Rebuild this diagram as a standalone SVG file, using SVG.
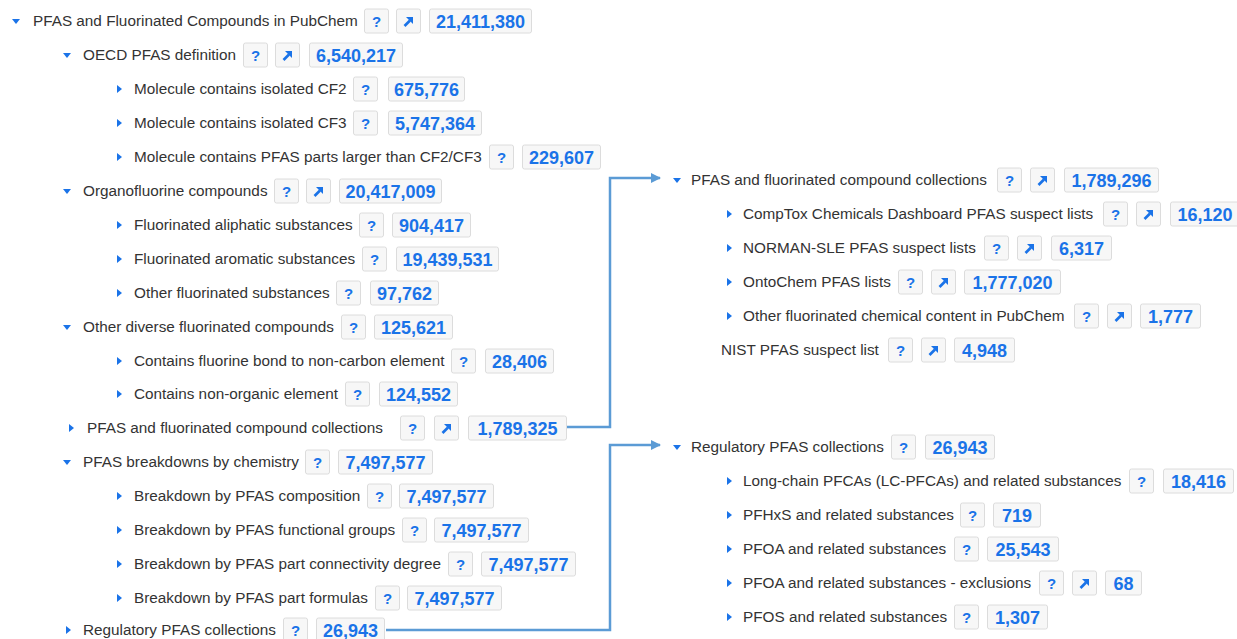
<svg xmlns="http://www.w3.org/2000/svg" xmlns:xlink="http://www.w3.org/1999/xlink" width="1237" height="639" viewBox="0 0 1237 639">
<style>
.lbl{font-family:"Liberation Sans",Arial,sans-serif;font-size:15.3px;fill:#333}
.cnt{font-family:"Liberation Sans",Arial,sans-serif;font-size:18px;font-weight:bold;fill:#1a73e8;text-anchor:middle}
.qt{font-family:"Liberation Sans",Arial,sans-serif;font-size:15px;font-weight:bold;fill:#1a73e8;text-anchor:middle}
.btn{fill:#f7f7f7;stroke:#dcdcdc;stroke-width:1}
.tri{fill:#1a73e8}
.con{fill:none;stroke:#5b9bd5;stroke-width:2.5}
</style>
<defs>
<g id="q"><rect class="btn" x="0.5" y="-12" width="24" height="24" rx="2"/><text class="qt" x="12.5" y="6">?</text></g>
<g id="ar"><rect class="btn" x="0.5" y="-12" width="24" height="24" rx="2"/><path d="M8.5,5 L14,-0.5" stroke="#1a73e8" stroke-width="2.6" fill="none"/><polygon points="17,-4 17,3 10,-4" fill="#1a73e8"/></g>
<path id="td" d="M-4,-2 L4,-2 L0,3 Z"/>
<path id="tr" d="M-2,-4 L3,0 L-2,4 Z"/>
<marker id="ah" viewBox="0 0 10 10" refX="9" refY="5" markerWidth="4" markerHeight="4" orient="auto" markerUnits="strokeWidth"><path d="M0,0 L10,5 L0,10 Z" fill="#5b9bd5"/></marker>
</defs>

<g id="connectors">
<path class="con" d="M566,427 H610 V178 H660" marker-end="url(#ah)"/>
<path class="con" d="M386,630 H610 V445 H660" marker-end="url(#ah)"/>
</g>

<g id="n1"><use href="#td" class="tri" x="16" y="21"/><text class="lbl" x="33" y="26">PFAS and Fluorinated Compounds in PubChem</text><use href="#q" x="364" y="21"/><use href="#ar" x="396" y="21"/><rect class="btn" x="429.5" y="9" width="102" height="24" rx="2"/><text class="cnt" x="480.5" y="28">21,411,380</text></g>
<g id="n2"><use href="#td" class="tri" x="67" y="55"/><text class="lbl" x="83" y="60">OECD PFAS definition</text><use href="#q" x="243" y="55"/><use href="#ar" x="275" y="55"/><rect class="btn" x="309.5" y="43" width="93" height="24" rx="2"/><text class="cnt" x="356" y="62">6,540,217</text></g>
<g id="n3"><use href="#tr" class="tri" x="119" y="89"/><text class="lbl" x="134" y="94">Molecule contains isolated CF2</text><use href="#q" x="353" y="89"/><rect class="btn" x="388.5" y="77" width="76" height="24" rx="2"/><text class="cnt" x="426.5" y="96">675,776</text></g>
<g id="n4"><use href="#tr" class="tri" x="119" y="123"/><text class="lbl" x="134" y="128">Molecule contains isolated CF3</text><use href="#q" x="353" y="123"/><rect class="btn" x="388.5" y="111" width="93" height="24" rx="2"/><text class="cnt" x="435" y="130">5,747,364</text></g>
<g id="n5"><use href="#tr" class="tri" x="119" y="157"/><text class="lbl" x="134" y="162">Molecule contains PFAS parts larger than CF2/CF3</text><use href="#q" x="489" y="157"/><rect class="btn" x="522.5" y="145" width="78" height="24" rx="2"/><text class="cnt" x="561.5" y="164">229,607</text></g>
<g id="n6"><use href="#td" class="tri" x="67" y="191"/><text class="lbl" x="83" y="196">Organofluorine compounds</text><use href="#q" x="274" y="191"/><use href="#ar" x="306" y="191"/><rect class="btn" x="339.5" y="179" width="102" height="24" rx="2"/><text class="cnt" x="390.5" y="198">20,417,009</text></g>
<g id="n7"><use href="#tr" class="tri" x="119" y="225"/><text class="lbl" x="134" y="230">Fluorinated aliphatic substances</text><use href="#q" x="359" y="225"/><rect class="btn" x="392.5" y="213" width="78" height="24" rx="2"/><text class="cnt" x="431.5" y="232">904,417</text></g>
<g id="n8"><use href="#tr" class="tri" x="119" y="259"/><text class="lbl" x="134" y="264">Fluorinated aromatic substances</text><use href="#q" x="362" y="259"/><rect class="btn" x="396.5" y="247" width="102" height="24" rx="2"/><text class="cnt" x="447.5" y="266">19,439,531</text></g>
<g id="n9"><use href="#tr" class="tri" x="119" y="293"/><text class="lbl" x="134" y="298">Other fluorinated substances</text><use href="#q" x="336" y="293"/><rect class="btn" x="370.5" y="281" width="68" height="24" rx="2"/><text class="cnt" x="404.5" y="300">97,762</text></g>
<g id="n10"><use href="#td" class="tri" x="67" y="327"/><text class="lbl" x="83" y="332">Other diverse fluorinated compounds</text><use href="#q" x="341" y="327"/><rect class="btn" x="374.5" y="315" width="78" height="24" rx="2"/><text class="cnt" x="413.5" y="334">125,621</text></g>
<g id="n11"><use href="#tr" class="tri" x="119" y="361"/><text class="lbl" x="134" y="366">Contains fluorine bond to non-carbon element</text><use href="#q" x="451" y="361"/><rect class="btn" x="485.5" y="349" width="68" height="24" rx="2"/><text class="cnt" x="519.5" y="368">28,406</text></g>
<g id="n12"><use href="#tr" class="tri" x="119" y="394"/><text class="lbl" x="134" y="399">Contains non-organic element</text><use href="#q" x="345" y="394"/><rect class="btn" x="379.5" y="382" width="78" height="24" rx="2"/><text class="cnt" x="418.5" y="401">124,552</text></g>
<g id="n13"><use href="#tr" class="tri" x="71" y="428"/><text class="lbl" x="87" y="433">PFAS and fluorinated compound collections</text><use href="#q" x="400" y="428"/><use href="#ar" x="434" y="428"/><rect class="btn" x="468.5" y="416" width="98" height="24" rx="2"/><text class="cnt" x="517.5" y="435">1,789,325</text></g>
<g id="n14"><use href="#td" class="tri" x="67" y="462"/><text class="lbl" x="83" y="467">PFAS breakdowns by chemistry</text><use href="#q" x="305" y="462"/><rect class="btn" x="338.5" y="450" width="94" height="24" rx="2"/><text class="cnt" x="385.5" y="469">7,497,577</text></g>
<g id="n15"><use href="#tr" class="tri" x="119" y="496"/><text class="lbl" x="134" y="501">Breakdown by PFAS composition</text><use href="#q" x="367" y="496"/><rect class="btn" x="399.5" y="484" width="94" height="24" rx="2"/><text class="cnt" x="446.5" y="503">7,497,577</text></g>
<g id="n16"><use href="#tr" class="tri" x="119" y="530"/><text class="lbl" x="134" y="535">Breakdown by PFAS functional groups</text><use href="#q" x="402" y="530"/><rect class="btn" x="434.5" y="518" width="94" height="24" rx="2"/><text class="cnt" x="481.5" y="537">7,497,577</text></g>
<g id="n17"><use href="#tr" class="tri" x="119" y="564"/><text class="lbl" x="134" y="569">Breakdown by PFAS part connectivity degree</text><use href="#q" x="448" y="564"/><rect class="btn" x="481.5" y="552" width="94" height="24" rx="2"/><text class="cnt" x="528.5" y="571">7,497,577</text></g>
<g id="n18"><use href="#tr" class="tri" x="119" y="598"/><text class="lbl" x="134" y="603">Breakdown by PFAS part formulas</text><use href="#q" x="375" y="598"/><rect class="btn" x="407.5" y="586" width="94" height="24" rx="2"/><text class="cnt" x="454.5" y="605">7,497,577</text></g>
<g id="n19"><use href="#tr" class="tri" x="68" y="630"/><text class="lbl" x="83" y="635">Regulatory PFAS collections</text><use href="#q" x="283" y="630"/><rect class="btn" x="316.5" y="618" width="68" height="24" rx="2"/><text class="cnt" x="350.5" y="637">26,943</text></g>

<g id="r1"><use href="#td" class="tri" x="677" y="180"/><text class="lbl" x="691" y="185">PFAS and fluorinated compound collections</text><use href="#q" x="997" y="180"/><use href="#ar" x="1030" y="180"/><rect class="btn" x="1064.5" y="168" width="94" height="24" rx="2"/><text class="cnt" x="1111.5" y="187">1,789,296</text></g>
<g id="r2"><use href="#tr" class="tri" x="729" y="214"/><text class="lbl" x="743" y="219">CompTox Chemicals Dashboard PFAS suspect lists</text><use href="#q" x="1103" y="214"/><use href="#ar" x="1136" y="214"/><rect class="btn" x="1170.5" y="202" width="70" height="24" rx="2"/><text class="cnt" x="1205" y="221">16,120</text></g>
<g id="r3"><use href="#tr" class="tri" x="729" y="248"/><text class="lbl" x="743" y="253">NORMAN-SLE PFAS suspect lists</text><use href="#q" x="984" y="248"/><use href="#ar" x="1017" y="248"/><rect class="btn" x="1051.5" y="236" width="60" height="24" rx="2"/><text class="cnt" x="1081.5" y="255">6,317</text></g>
<g id="r4"><use href="#tr" class="tri" x="729" y="282"/><text class="lbl" x="743" y="287">OntoChem PFAS lists</text><use href="#q" x="898" y="282"/><use href="#ar" x="931" y="282"/><rect class="btn" x="964.5" y="270" width="96" height="24" rx="2"/><text class="cnt" x="1012.5" y="289">1,777,020</text></g>
<g id="r5"><use href="#tr" class="tri" x="729" y="316"/><text class="lbl" x="743" y="321">Other fluorinated chemical content in PubChem</text><use href="#q" x="1074" y="316"/><use href="#ar" x="1107" y="316"/><rect class="btn" x="1140.5" y="304" width="60" height="24" rx="2"/><text class="cnt" x="1170.5" y="323">1,777</text></g>
<g id="r6"><text class="lbl" x="721" y="355">NIST PFAS suspect list</text><use href="#q" x="888" y="350"/><use href="#ar" x="921" y="350"/><rect class="btn" x="954.5" y="338" width="60" height="24" rx="2"/><text class="cnt" x="984.5" y="357">4,948</text></g>
<g id="r7"><use href="#td" class="tri" x="677" y="447"/><text class="lbl" x="691" y="452">Regulatory PFAS collections</text><use href="#q" x="891" y="447"/><rect class="btn" x="925.5" y="435" width="69" height="24" rx="2"/><text class="cnt" x="960" y="454">26,943</text></g>
<g id="r8"><use href="#tr" class="tri" x="729" y="481"/><text class="lbl" x="743" y="486">Long-chain PFCAs (LC-PFCAs) and related substances</text><use href="#q" x="1129" y="481"/><rect class="btn" x="1163.5" y="469" width="70" height="24" rx="2"/><text class="cnt" x="1198.5" y="488">18,416</text></g>
<g id="r9"><use href="#tr" class="tri" x="729" y="515"/><text class="lbl" x="743" y="520">PFHxS and related substances</text><use href="#q" x="960" y="515"/><rect class="btn" x="993.5" y="503" width="47" height="24" rx="2"/><text class="cnt" x="1017" y="522">719</text></g>
<g id="r10"><use href="#tr" class="tri" x="729" y="549"/><text class="lbl" x="743" y="554">PFOA and related substances</text><use href="#q" x="954" y="549"/><rect class="btn" x="987.5" y="537" width="71" height="24" rx="2"/><text class="cnt" x="1023" y="556">25,543</text></g>
<g id="r11"><use href="#tr" class="tri" x="729" y="583"/><text class="lbl" x="743" y="588">PFOA and related substances - exclusions</text><use href="#q" x="1039" y="583"/><use href="#ar" x="1072" y="583"/><rect class="btn" x="1105.5" y="571" width="36" height="24" rx="2"/><text class="cnt" x="1123.5" y="590">68</text></g>
<g id="r12"><use href="#tr" class="tri" x="729" y="617"/><text class="lbl" x="743" y="622">PFOS and related substances</text><use href="#q" x="954" y="617"/><rect class="btn" x="987.5" y="605" width="60" height="24" rx="2"/><text class="cnt" x="1017.5" y="624">1,307</text></g>
</svg>
